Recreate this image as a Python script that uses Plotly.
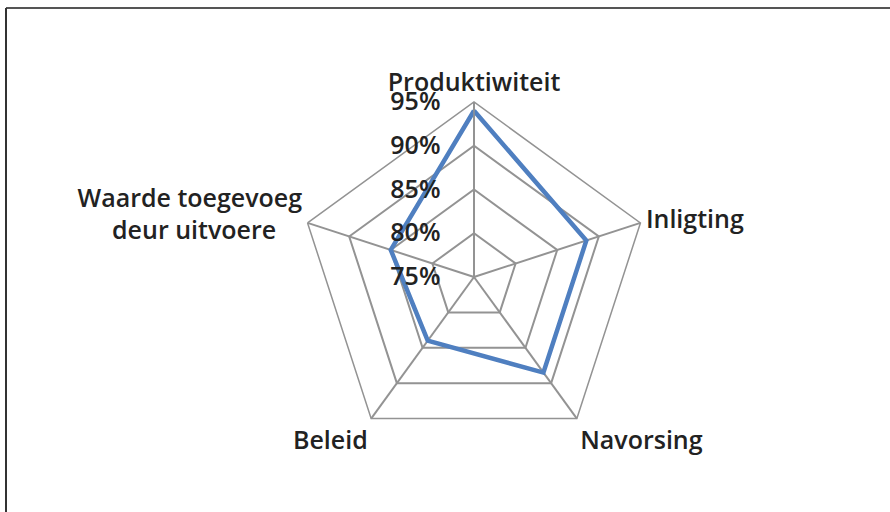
import plotly.graph_objects as go

NB = "\u00a0"
categories = ["Produktiwiteit", "Inligting", "Navorsing", "Beleid",
              "Waarde toegevoeg<br>deur uitvoere" + NB * 4]
values = [94, 88.5, 88.5, 84, 85]
radial_ticks = [75, 80, 85, 90, 95]
radial_ticktext = ["75%", "80%", "85%", "90%", "95%"]

W, H = 890, 512
cx, cy, R = 474, 277, 175

fig = go.Figure()
fig.add_trace(go.Scatterpolar(
    r=values + values[:1],
    theta=categories + categories[:1],
    mode="lines",
    line=dict(color="#4f7fc0", width=4.5),
    showlegend=False,
    hoverinfo="skip",
))

font = dict(family="Open Sans", size=25, color="#222222", weight=600)
fig.update_layout(
    width=W, height=H,
    margin=dict(l=0, r=0, t=0, b=0),
    paper_bgcolor="white",
    font=font,
    polar=dict(
        domain=dict(x=[(cx - R) / W, (cx + R) / W], y=[(H - cy - R) / H, (H - cy + R) / H]),
        bgcolor="white",
        gridshape="linear",
        radialaxis=dict(
            range=[75, 95],
            tickvals=radial_ticks,
            ticktext=radial_ticktext,
            angle=90,
            tickangle=90,
            side="counterclockwise",
            showline=True,
            linecolor="#939393",
            linewidth=1.5,
            gridcolor="#939393",
            gridwidth=1.5,
            ticks="outside",
            ticklen=24,
            tickcolor="rgba(0,0,0,0)",
            tickfont=font,
        ),
        angularaxis=dict(
            direction="clockwise",
            rotation=90,
            showline=True,
            linecolor="#939393",
            linewidth=1.5,
            gridcolor="#939393",
            gridwidth=1.5,
            ticks="",
            tickfont=font,
        ),
    ),
    shapes=[
        dict(type="line", xref="paper", yref="paper", x0=6 / W, x1=1, y0=1 - 8 / H, y1=1 - 8 / H,
             line=dict(color="#555555", width=2)),
        dict(type="line", xref="paper", yref="paper", x0=6 / W, x1=6 / W, y0=0, y1=1 - 8 / H,
             line=dict(color="#333333", width=2)),
    ],
)

fig.write_html("out.html", config={"displayModeBar": False},
               post_script="document.body.style.margin='0';")
